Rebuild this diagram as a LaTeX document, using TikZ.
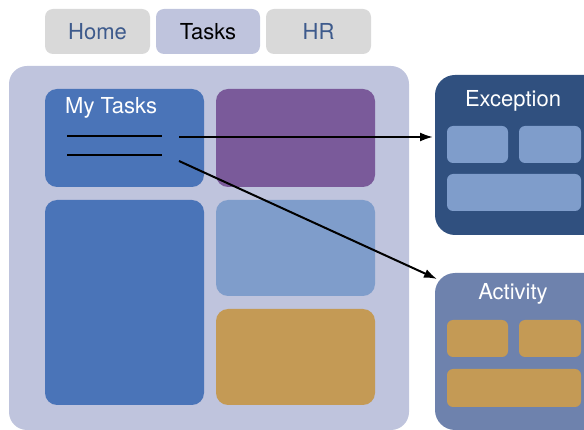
\documentclass[tikz,border=0pt]{standalone}
\usepackage{fontspec}
\setmainfont{TeX Gyre Heros}
\usetikzlibrary{shapes,arrows.meta,positioning,calc}

\definecolor{tabgray}{HTML}{D9D9D9}
\definecolor{tabtext}{HTML}{3D5A8C}
\definecolor{lavender}{HTML}{BFC4DD}
\definecolor{taskblue}{HTML}{4A74B8}
\definecolor{paleblue}{HTML}{7F9DCB}
\definecolor{plum}{HTML}{7A5A9A}
\definecolor{ochre}{HTML}{C49A55}
\definecolor{navy}{HTML}{30507F}
\definecolor{slate}{HTML}{6E82AD}

\begin{document}
\begin{tikzpicture}[x=1pt,y=-1pt,
    box/.style={rounded corners=#1, inner sep=0pt, outer sep=0pt, anchor=north west},
    box/.default=12pt,
    caption/.style={font=\fontsize{22}{26}\selectfont, inner sep=0pt, text=white},
    link/.style={-{Latex[length=13pt,width=9pt]}, line width=2pt}]
    \useasboundingbox (0,0) rectangle (584,430);
    \clip (0,0) rectangle (584,430);

    % Tabs
    \node[box=8pt, fill=tabgray, minimum width=105pt, minimum height=45pt,
          font=\fontsize{22}{26}\selectfont, text=tabtext] (home) at (45,9) {Home};
    \node[box=8pt, fill=lavender, minimum width=104pt, minimum height=45pt,
          font=\fontsize{22}{26}\selectfont] (tasks) at (156,9) {Tasks};
    \node[box=8pt, fill=tabgray, minimum width=105pt, minimum height=45pt,
          font=\fontsize{22}{26}\selectfont, text=tabtext] (hr) at (266,9) {HR};

    % Page
    \node[box=18pt, fill=lavender, minimum width=400pt, minimum height=364pt] (page) at (9,66) {};

    % Widgets
    \node[box, fill=taskblue, minimum width=159pt, minimum height=98pt] (mytasks) at (45,89) {};
    \node[caption, anchor=west] (mytitle) at (65,108) {My Tasks};
    \draw[line width=2pt] (67,136) -- (162,136);
    \draw[line width=2pt] (67,155) -- (162,155);
    \node[box, fill=plum, minimum width=159pt, minimum height=98pt] (purple) at (216,89) {};
    \node[box, fill=taskblue, minimum width=159pt, minimum height=205pt] (bigblue) at (45,200) {};
    \node[box, fill=paleblue, minimum width=159pt, minimum height=96pt] (light) at (216,200) {};
    \node[box, fill=ochre, minimum width=159pt, minimum height=96pt] (gold) at (216,309) {};

    % Exception panel
    \node[box=20pt, fill=navy, minimum width=170pt, minimum height=160pt] (exc) at (435,75) {};
    \node[caption] (exctitle) at (513,101) {Exception};
    \node[box=6pt, fill=paleblue, minimum width=61pt, minimum height=37pt] (exca) at (447,126) {};
    \node[box=6pt, fill=paleblue, minimum width=62pt, minimum height=37pt] (excb) at (519,126) {};
    \node[box=6pt, fill=paleblue, minimum width=134pt, minimum height=37pt] (excc) at (447,174) {};

    % Activity panel
    \node[box=20pt, fill=slate, minimum width=170pt, minimum height=157pt] (act) at (435,273) {};
    \node[caption] (acttitle) at (513,294) {Activity};
    \node[box=6pt, fill=ochre, minimum width=61pt, minimum height=37pt] (acta) at (447,320) {};
    \node[box=6pt, fill=ochre, minimum width=62pt, minimum height=37pt] (actb) at (519,320) {};
    \node[box=6pt, fill=ochre, minimum width=134pt, minimum height=38pt] (actc) at (447,369) {};

    % Arrows
    \coordinate (from1) at (179,137);
    \coordinate (from2) at (179,161);
    \draw[link, shorten >=2pt] (from1) -- (exc.west |- from1);
    \draw[link] (from2) -- ($(act.north west)+(2,6)$);
\end{tikzpicture}
\end{document}
